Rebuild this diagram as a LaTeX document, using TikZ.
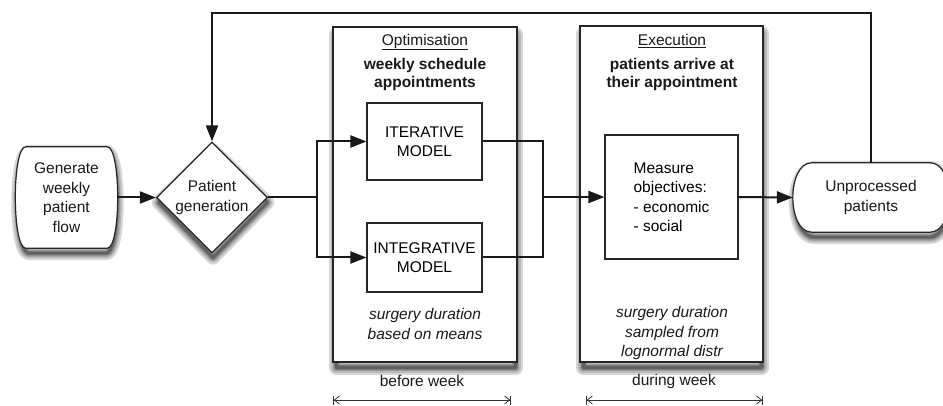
\documentclass[tikz,border=0pt]{standalone}
\usepackage{fontspec}
\setmainfont{Liberation Sans}
\usetikzlibrary{arrows.meta,shapes.geometric,calc,backgrounds}

\definecolor{shA}{rgb}{0.84,0.84,0.84}
\definecolor{shB}{rgb}{0.72,0.72,0.72}
\definecolor{shC}{rgb}{0.60,0.60,0.60}
\definecolor{shD}{rgb}{0.48,0.48,0.48}
\definecolor{shE}{rgb}{0.38,0.38,0.38}

% Terminal outline with straight top and bottom and bowed sides:
% #1 node, #2 corner inset, #3 side control offset, #4 dx, #5 dy
\newcommand\termpath[5]{($(#1.north west)+(#2+#4,#5)$) -- ($(#1.north east)+(-#2+#4,#5)$)
  .. controls ($(#1.north east)+(#3+#4,#5)$) and ($(#1.south east)+(#3+#4,#5)$)
  .. ($(#1.south east)+(-#2+#4,#5)$) -- ($(#1.south west)+(#2+#4,#5)$)
  .. controls ($(#1.south west)+(-#3+#4,#5)$) and ($(#1.north west)+(-#3+#4,#5)$) .. cycle}

\begin{document}
\begin{tikzpicture}[x=1pt,y=-1pt,
  font=\fontsize{15.5}{19.5}\selectfont,
  box/.style={draw=black!85, line width=1.1pt, fill=white, inner sep=0pt},
  outline/.style={draw=black!85, line width=1.2pt, fill=white},
  lbl/.style={align=center, inner sep=0pt, text=black!90},
  flow/.style={line width=2pt, draw=black!90},
  arr/.style={flow, -{Triangle[length=16pt,width=12pt]}},
  dim/.style={line width=0.8pt, draw=black!80,
      {Bar[width=9pt]Straight Barb[length=5pt,width=8pt]}-{Straight Barb[length=5pt,width=8pt]Bar[width=9pt]}},
  % soft shadow: stacked strokes round an outline moved down a little
  shadowA/.style={draw=shA, line width=14pt, line join=round},
  shadowB/.style={draw=shB, line width=10pt, line join=round},
  shadowC/.style={draw=shC, line width=7pt, line join=round},
  shadowD/.style={draw=shD, line width=4.5pt, line join=round},
  shadowE/.style={draw=shE, line width=2.5pt, line join=round},
]
\useasboundingbox (0,0) rectangle (943,406);

% start and end terminals (text; outlines are drawn behind)
\node[lbl, minimum width=101pt, minimum height=101pt] (gen) at (66.5,197.5)
  {Generate\\weekly\\patient\\flow};
\node[lbl, minimum width=156pt, minimum height=69pt] (unp) at (871,197.5)
  {Unprocessed\\patients};

% decision
\node[diamond, aspect=1, minimum width=111pt, minimum height=111pt, inner sep=0pt,
      outline] (pg) at (212,197.5) {};
\node[lbl] at (pg) {Patient\\generation};

% optimisation phase
\node[box, minimum width=184pt, minimum height=335pt] (opt) at (425,194.5) {};
\node[lbl] (opttitle) at (425,42) {\underline{Optimisation}};
\node[lbl, font=\fontsize{15.5}{18}\selectfont\bfseries] (optsub) at (425,74) {weekly schedule\\appointments};
\node[box, minimum width=115pt, minimum height=77pt, align=center] (iter) at (424.5,141.5) {ITERATIVE\\MODEL};
\node[box, minimum width=115pt, minimum height=69pt, align=center] (integ) at (424.5,257.5) {INTEGRATIVE\\MODEL};
\node[lbl, font=\fontsize{15.5}{19.5}\selectfont\itshape] (optnote) at (425,324) {surgery duration\\based on means};

% execution phase
\node[box, minimum width=183pt, minimum height=336pt] (exe) at (671.5,194) {};
\node[lbl] (exetitle) at (672,41) {\underline{Execution}};
\node[lbl, font=\fontsize{15.5}{18}\selectfont\bfseries] (exesub) at (672,74) {patients arrive at\\their appointment};
\node[box, minimum width=133pt, minimum height=124pt, align=left] (meas) at (671.5,197)
  {Measure\\objectives:\\- economic\\- social};
\node[lbl, font=\fontsize{15.5}{19.5}\selectfont\itshape] (exenote) at (672,333)
  {surgery duration\\sampled from\\lognormal distr};

% shadows and terminal outlines, behind everything
\begin{scope}[on background layer]
  \foreach \s in {shadowA,shadowB,shadowC,shadowD,shadowE} {
    \path[\s] ($(opt.north west)+(4,8)$) rectangle ($(opt.south east)+(-2,5)$);
    \path[\s] ($(exe.north west)+(4,8)$) rectangle ($(exe.south east)+(-2,5)$);
    \path[\s] ($(pg.north)+(1,9)$) -- ($(pg.east)+(-1,5)$) -- ($(pg.south)+(1,4)$)
      -- ($(pg.west)+(3,5)$) -- cycle;
    \path[\s] \termpath{gen}{12}{2}{1}{5};
    \path[\s] \termpath{unp}{21}{4.3}{1}{5};
  }
  \path[outline] \termpath{gen}{10}{4}{0}{0};
  \path[outline] \termpath{unp}{19}{6.3}{0}{0};
\end{scope}

% junction points
\coordinate (split) at (317,197.5);
\coordinate (merge) at (543,197);
\coordinate (fb) at (212,13);

% flow connectors
\draw[arr] (gen.east) -- (pg.west);
\draw[arr] (pg.east) -- (split) |- (iter.west);
\draw[arr] (split) |- (integ.west);
\draw[arr] (iter.east) -| (merge) -- (meas.west);
\draw[flow] (integ.east) -| (merge);
\draw[arr] (meas.east) -- (unp.west);
\draw[arr] (unp.north) |- (fb) -- (pg.north);

% time spans
\coordinate (bw1) at (333,400);
\coordinate (bw2) at (511,400);
\coordinate (dw1) at (586,400);
\coordinate (dw2) at (763,400);
\draw[dim] (bw1) -- (bw2);
\draw[dim] (dw1) -- (dw2);
\node[lbl] (bwl) at (422,381) {before week};
\node[lbl] (dwl) at (674,381) {during week};
\end{tikzpicture}
\end{document}
